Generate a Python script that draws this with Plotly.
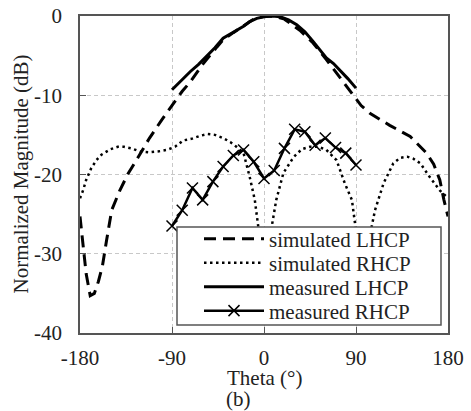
import plotly.graph_objects as go

# ---------------- data ----------------
sim_lhcp_theta = [-180, -177, -174, -170, -166, -162, -158, -154, -149, -141, -133, -123, -112, -100, -90,
                  -80, -72, -60, -46, -40, -30, -20, -10, 0, 5, 10, 20, 35, 48, 61, 74, 87, 95, 104,
                  123, 143, 159, 166, 172, 176, 180]
sim_lhcp_db = [-25.3, -29.0, -32.5, -35.3, -35.0, -33.5, -31.5, -28.3, -24.5, -22.0, -19.9, -17.8, -15.4, -13.1, -11.3,
               -9.5, -8.3, -6.1, -3.9, -3.0, -2.1, -1.2, -0.4, -0.05, 0.0, -0.05, -0.4, -1.8, -3.4, -5.5, -7.7, -10.0, -11.3, -12.3,
               -13.8, -15.2, -17.3, -18.7, -20.7, -23.2, -25.3]

sim_rhcp_theta = [-180, -177, -174, -169, -164, -159, -150, -143, -137, -130, -121, -112, -104, -95, -87, -79, -71,
                  -62, -55, -48, -40, -33, -27, -20, -14, -9, -6, -3, 1, 5, 7.5, 12, 19, 29, 37, 45, 53, 61, 71, 79,
                  86, 89, 93, 96, 100, 104, 108.6, 117, 126.5, 133, 140, 146, 153, 162, 172, 180]
sim_rhcp_db = [-23.0, -22.0, -20.7, -19.2, -18.2, -17.5, -16.8, -16.5, -16.5, -16.7, -17.1, -17.2, -17.1, -16.9, -16.5, -15.7, -15.5,
               -15.1, -14.9, -15.0, -15.4, -15.9, -16.5, -17.3, -20.3, -23.2, -26.2, -29.0, -33.0, -28.5, -26.4, -23.2, -19.8, -17.8, -16.8, -16.5, -16.5, -16.9, -18.2, -21.1,
               -23.2, -26.0, -30.0, -33.0, -30.0, -27.5, -24.5, -21.1, -18.6, -17.9, -17.75, -18.0, -18.6, -20.3, -22.0, -23.0]

meas_lhcp_theta = [-90, -80, -72, -64, -56, -48, -40, -33, -27, -20, -14, -7, 0, 8, 16, 24, 32, 40, 48, 55, 61, 68, 74, 82, 90]
meas_lhcp_db = [-9.3, -8.0, -7.0, -6.1, -5.1, -4.0, -2.8, -2.3, -1.8, -1.3, -0.7, -0.3, -0.1, 0.0, -0.1, -0.5, -1.1, -2.0, -3.2, -4.3, -5.3, -6.0, -6.8, -7.9, -9.1]

meas_rhcp_theta = [-90, -80, -70, -60, -50, -40, -30, -20, -10, 0, 10, 20, 30, 40, 50, 60, 70, 80, 90]
meas_rhcp_db = [-26.5, -24.5, -21.7, -23.2, -20.9, -19.0, -17.6, -16.9, -18.4, -20.5, -19.5, -16.7, -14.3, -14.6, -16.3, -15.4, -16.6, -17.3, -18.8]

x_ticks = [-180, -90, 0, 90, 180]
y_ticks = [0, -10, -20, -30, -40]
series_names = ["simulated LHCP", "simulated RHCP", "measured LHCP", "measured RHCP"]

FONT = "Liberation Serif, Times New Roman, serif"
TXT = "#222222"
FRAME = "#555555"

W, H = 471, 411
L, R, T, B = 80, 23, 16, 78
pw = W - L - R
ph = H - T - B


def px_x(p):
    return (p - L) / pw


def px_y(p):
    return (H - B - p) / ph


fig = go.Figure()
fig.add_trace(go.Scatter(x=sim_lhcp_theta, y=sim_lhcp_db, mode="lines", name=series_names[0], legend="legend",
                         line=dict(color="black", width=3, dash="12px,7px")))
fig.add_trace(go.Scatter(x=sim_rhcp_theta, y=sim_rhcp_db, mode="lines", name=series_names[1], legend="legend2",
                         line=dict(color="black", width=2.5, dash="2.5px,3.5px")))
fig.add_trace(go.Scatter(x=meas_lhcp_theta, y=meas_lhcp_db, mode="lines", name=series_names[2], legend="legend3",
                         line=dict(color="black", width=3)))
fig.add_trace(go.Scatter(x=meas_rhcp_theta, y=meas_rhcp_db, mode="lines+markers", name=series_names[3], legend="legend4",
                         line=dict(color="black", width=2.5),
                         marker=dict(symbol="x-thin", size=11, line=dict(color="black", width=1.5))))

row_y = [239, 263, 287, 311]


def leg(yc):
    return dict(xref="container", yref="container", x=199 / W, y=1 - yc / H,
                xanchor="left", yanchor="middle", bgcolor="rgba(0,0,0,0)", borderwidth=0,
                itemwidth=60, font=dict(family=FONT, size=21, color=TXT))


axis_common = dict(showgrid=True, gridcolor="#c8c8c8", griddash="4px,3px", gridwidth=1,
                   zeroline=False, showline=True, linecolor=FRAME, linewidth=1.5, mirror=True,
                   ticks="inside", ticklen=6, tickcolor=FRAME, tickwidth=1.2, automargin=False)

fig.update_layout(
    width=W, height=H,
    margin=dict(l=L, r=R, t=T, b=B, autoexpand=False),
    paper_bgcolor="white", plot_bgcolor="white",
    font=dict(family=FONT, size=21, color=TXT),
    showlegend=True,
    legend=leg(row_y[0]), legend2=leg(row_y[1]), legend3=leg(row_y[2]), legend4=leg(row_y[3]),
    xaxis=dict(range=[-180, 180], tickvals=x_ticks, ticktext=[str(v) for v in x_ticks],
               ticklabelstandoff=5, **axis_common),
    yaxis=dict(range=[-40, 0], tickvals=y_ticks, ticktext=[str(v) for v in y_ticks],
               ticklabelstandoff=12, **axis_common),
    shapes=[dict(type="rect", xref="paper", yref="paper",
                 x0=px_x(177), x1=px_x(441), y0=px_y(325), y1=px_y(227),
                 fillcolor="white", line=dict(color=FRAME, width=1.5), layer="above")],
    annotations=[
        dict(text="Normalized Magnitude (dB)", xref="paper", yref="paper", x=px_x(20), y=0.5,
             xanchor="center", yanchor="middle", textangle=-90, showarrow=False,
             font=dict(family=FONT, size=21, color=TXT)),
        dict(text="Theta (°)", xref="paper", yref="paper", x=0.5, y=px_y(378),
             xanchor="center", yanchor="middle", showarrow=False,
             font=dict(family=FONT, size=21, color=TXT)),
        dict(text="(b)", xref="paper", yref="paper", x=px_x(224), y=px_y(399),
             xanchor="left", yanchor="middle", showarrow=False,
             font=dict(family=FONT, size=21, color=TXT)),
    ],
)

fig.write_html("out.html", config={"displayModeBar": False},
               post_script="document.body.style.margin='0px';")
